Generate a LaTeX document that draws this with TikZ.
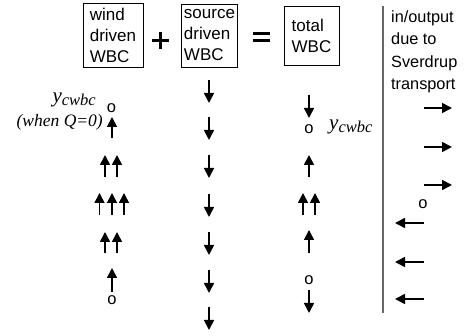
\documentclass[tikz,border=0pt]{standalone}
\usepackage{fontspec}
\setmainfont{Liberation Sans}
\newfontfamily\ycfont{Liberation Serif}
\usetikzlibrary{arrows.meta,calc}

% y_cwbc label in serif italic
\newcommand\ycwbclabel{{\ycfont\itshape\fontsize{21}{21}\selectfont y\raisebox{-2.5pt}{\fontsize{16.5}{16.5}\selectfont cwbc}}}

\begin{document}
\begin{tikzpicture}[x=1pt,y=-1pt,
  wbcbox/.style={draw, line width=0.9pt, inner sep=0pt, align=left,
    font=\fontsize{17}{21}\selectfont},
  flow/.style={line width=1.6pt, -{Triangle[length=10pt,width=10pt]}},
  zero/.style={inner sep=0pt, font=\fontsize{16.5}{16.5}\selectfont},
  sign/.style={line width=3pt},
  divider/.style={line width=1.6pt, draw=black!60}]
\useasboundingbox (0,0) rectangle (464,336);

% header boxes and the sum between them
\node[wbcbox, minimum width=60pt, minimum height=64pt] (wind) at (113,35) {wind\\driven\\WBC};
\node[wbcbox, minimum width=56pt, minimum height=63pt] (source) at (209.5,35.5) {source\\driven\\WBC};
\node[wbcbox, minimum width=55pt, minimum height=59pt] (total) at (311.5,35.5) {total\\WBC};

\coordinate (plus) at (160.5,41);
\draw[sign] ([xshift=-8.5pt]plus) -- ([xshift=8.5pt]plus);
\draw[sign] ([yshift=8.5pt]plus) -- ([yshift=-8.5pt]plus);
\coordinate (eq) at (261,37);
\draw[sign] ($(eq)+(-8.5,-3.5)$) -- ($(eq)+(8.5,-3.5)$);
\draw[sign] ($(eq)+(-8.5,3.5)$) -- ($(eq)+(8.5,3.5)$);

% boundary and Sverdrup transport heading
\draw[divider] (383,6) coordinate (dtop) -- (383,313) coordinate (dbot);
\node[inner sep=0pt, anchor=north west, align=left,
  font=\fontsize{16.3}{22.5}\selectfont] (sv) at (391,10)
  {in/output\\due to\\Sverdrup\\transport};

% source driven column: uniform southward flow
\foreach \t in {103,140,178,217,255,293,330}
  \draw[flow] (209,\t-23) -- (209,\t);

% wind driven column: northward flow, strongest in the middle
\node[zero] (wtop) at (111.5,108) {o};
\draw[flow] (112,138) -- (112,117);
\foreach \x in {105,117} \draw[flow] (\x,177) -- (\x,155);
\foreach \x in {99.5,112,124} \draw[flow] (\x,215) -- (\x,193);
\foreach \x in {105,117} \draw[flow] (\x,253) -- (\x,232);
\draw[flow] (112,292) -- (112,268);
\node[zero] (wbot) at (112,300) {o};
\node[inner sep=0pt, anchor=east] (ywind) at (96,100) {\ycwbclabel};
\node[inner sep=0pt, anchor=east, font=\ycfont\itshape\fontsize{17.5}{17.5}\selectfont]
  (qzero) at (103,122) {(when Q=0)};

% total column
\draw[flow] (309,95) -- (309,118);
\node[zero] (ttop) at (309,129) {o};
\node[inner sep=0pt, anchor=west] (ytotal) at (329,127) {\ycwbclabel};
\draw[flow] (309,177) -- (309,155);
\foreach \x in {303,315} \draw[flow] (\x,215) -- (\x,193);
\draw[flow] (309,253) -- (309,230);
\node[zero] (tbot) at (309,280) {o};
\draw[flow] (309,290) -- (309,313);

% Sverdrup in/output across the boundary
\foreach \y in {108,147,185} \draw[flow] (424,\y) -- (452,\y);
\node[zero] (szero) at (423,204) {o};
\foreach \y in {223,262,299} \draw[flow] (424,\y) -- (395,\y);
\end{tikzpicture}
\end{document}
